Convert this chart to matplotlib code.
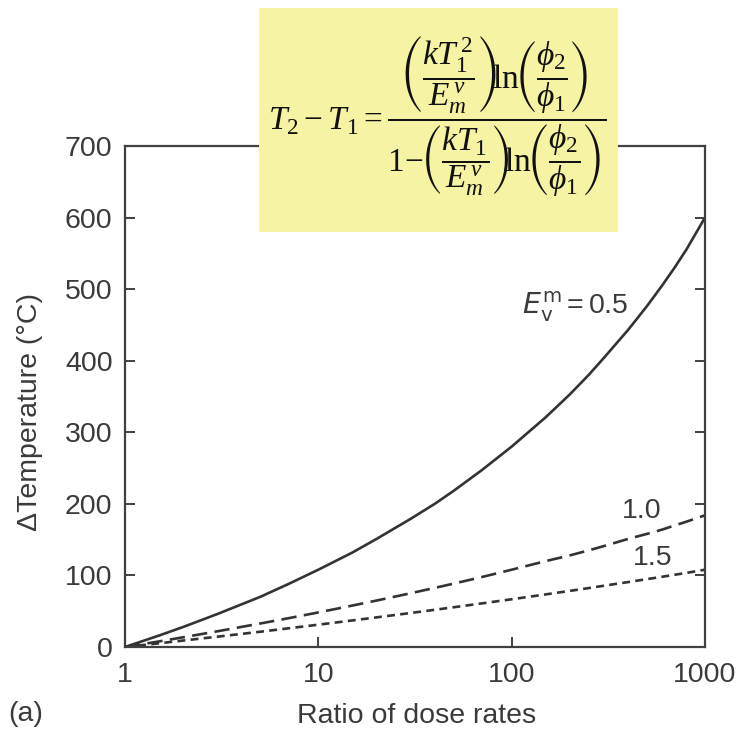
import matplotlib
matplotlib.use("Agg")
import matplotlib.pyplot as plt
from matplotlib.patches import Rectangle

plt.rcParams["font.family"] = ["Liberation Sans", "DejaVu Sans"]
plt.rcParams["mathtext.fontset"] = "custom"
plt.rcParams["mathtext.rm"] = "Liberation Serif"
plt.rcParams["mathtext.it"] = "Liberation Serif:italic"
plt.rcParams["mathtext.bf"] = "Liberation Serif:bold"
plt.rcParams["mathtext.fallback"] = "stix"

# Dose-rate ratio and temperature shift for three activation energies
ratio = [1, 1.5, 2, 3, 5, 7, 10, 15, 20, 30, 40, 50, 70, 100, 150, 200, 250, 300,
         400, 500, 600, 700, 800, 1000]
dT_05 = [0, 16, 28, 46, 70, 88, 108, 132, 151, 179, 200, 218, 247, 280, 321, 353, 380, 404,
         443, 476, 505, 531, 555, 600]
dT_10 = [0, 7.8, 13.6, 21.9, 32.8, 40.2, 48.3, 57.9, 64.9, 75.1, 82.6, 88.5, 97.7, 108, 120,
         128, 135, 141, 151, 158, 164, 170, 175, 184]
dT_15 = [0, 5.2, 9.0, 14.4, 21.3, 26.1, 31.2, 37.1, 41.4, 47.5, 52.0, 55.5, 60.9, 66.7, 73.5,
         78.4, 82.3, 85.6, 90.7, 94.8, 98.1, 101, 103.5, 108]

x_ticks = [1, 10, 100, 1000]
x_ticklabels = ["1", "10", "100", "1000"]
y_ticks = [0, 100, 200, 300, 400, 500, 600, 700]

W, H = 740, 731
fig = plt.figure(figsize=(W / 100, H / 100), dpi=100)
ax = fig.add_axes([125 / W, 1 - 647 / H, (705 - 125) / W, (647 - 146) / H])

ink = "#333333"
txt = "#3a3a3a"
fs = 20.5
ax.plot(ratio, dT_05, color=ink, lw=1.9)
ax.plot(ratio, dT_10, color=ink, lw=1.9, dashes=(5.8, 2.8))
ax.plot(ratio, dT_15, color=ink, lw=1.9, dashes=(3.0, 2.0))

ax.set_xscale("log")
ax.set_xlim(1, 1000)
ax.set_ylim(0, 700)
ax.set_xticks(x_ticks)
ax.set_xticklabels(x_ticklabels)
ax.set_yticks(y_ticks)
ax.minorticks_off()
ax.tick_params(axis="both", direction="in", length=7, width=1.4, colors="#404040",
               labelcolor=txt, labelsize=fs)
ax.tick_params(axis="y", right=True, pad=9)
ax.tick_params(axis="x", pad=11)
for s in ax.spines.values():
    s.set_linewidth(1.6)
    s.set_color("#404040")

ax.set_xlabel("Ratio of dose rates", fontsize=fs, color=txt, va="center")
ax.xaxis.set_label_coords(0.502, -0.138)
ax.set_ylabel("\u0394Temperature (\u00b0C)", fontsize=fs, color=txt, va="center")
ax.yaxis.set_label_coords(-0.164, 0.47)

# Curve labels
ax.text(213, 476, r"$\mathit{E}_{\mathrm{v}}^{\mathrm{m}}$$\,$=$\,$0.5", fontsize=fs,
        color=txt, ha="center", va="center", math_fontfamily="dejavusans")
ax.text(472, 190, "1.0", fontsize=fs, color=txt, ha="center", va="center")
ax.text(538, 124, "1.5", fontsize=fs, color=txt, ha="center", va="center")

fig.text(8 / W, 1 - 714 / H, "(a)", fontsize=fs, color=txt, ha="left", va="center")

# Equation panel over the top of the plot
box = Rectangle((259 / W, 1 - 232 / H), (618 - 259) / W, (232 - 8) / H,
                transform=fig.transFigure, facecolor="#f6f3a4", edgecolor="none",
                zorder=5)
fig.patches.append(box)
eq = (r"$T_2 - T_1 = \dfrac{\left(\dfrac{kT_1^{\,2}}{E_m^{\,v}}\right)\!\!\ln\!\!"
      r"\left(\dfrac{\phi_2}{\phi_1}\right)}"
      r"{1\!-\!\!\left(\dfrac{kT_1}{E_m^{\,v}}\right)\!\!\ln\!\!\left(\dfrac{\phi_2}{\phi_1}\right)}$")
fig.text(437 / W, 1 - 116 / H, eq, fontsize=24, color="#111111",
         ha="center", va="center", zorder=6)

fig.savefig("out.png", dpi=100)
